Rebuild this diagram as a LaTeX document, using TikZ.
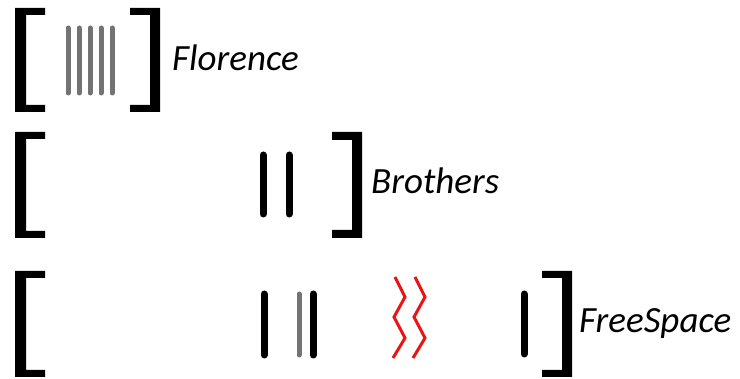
\documentclass[tikz,border=0pt]{standalone}
\usepackage{fontspec}
\setmainfont{Carlito}
\definecolor{zigred}{RGB}{235,20,20}
\definecolor{bargray}{RGB}{115,115,115}
\begin{document}
\begin{tikzpicture}[x=1pt,y=-1pt,
  lbl/.style={anchor=base west,inner sep=0pt,font=\fontsize{37}{40}\selectfont\itshape},
  blkbar/.style={line width=7pt,line cap=round,black},
  graybar/.style={line width=5pt,line cap=round,color=bargray},
  zig/.style={line width=3pt,color=zigred,line join=miter},
  brk/.style={fill=black}]
\useasboundingbox (0,0) rectangle (740,379);
% Row 1
\fill[brk] (15,8) -- (45,8) -- (45,15) -- (26,15) -- (26,105) -- (45,105) -- (45,112) -- (15,112) -- cycle;
\fill[brk] (160,8) -- (130,8) -- (130,15) -- (150,15) -- (150,105) -- (130,105) -- (130,112) -- (160,112) -- cycle;
\foreach \x/\n in {68/a,79/b,90/c,101/d,112/e}{
  \coordinate (g\n t) at (\x,28);
  \coordinate (g\n b) at (\x,93);
  \draw[graybar] (g\n t) -- (g\n b);
}
\node[lbl] (florence) at (172,71) {Florence};
% Row 2
\fill[brk] (15,132) -- (45,132) -- (45,139) -- (26,139) -- (26,231) -- (45,231) -- (45,238) -- (15,238) -- cycle;
\fill[brk] (362,132) -- (332,132) -- (332,140) -- (352,140) -- (352,230) -- (332,230) -- (332,238) -- (362,238) -- cycle;
\coordinate (b1t) at (263,155); \coordinate (b1b) at (263,214);
\coordinate (b2t) at (289,155); \coordinate (b2b) at (289,214);
\draw[blkbar] (b1t) -- (b1b);
\draw[blkbar] (b2t) -- (b2b);
\node[lbl] (brothers) at (371,194) {Brothers};
% Row 3
\fill[brk] (15,271) -- (45,271) -- (45,278) -- (26,278) -- (26,370) -- (45,370) -- (45,377) -- (15,377) -- cycle;
\fill[brk] (572,271) -- (542,271) -- (542,278) -- (562,278) -- (562,370) -- (542,370) -- (542,377) -- (572,377) -- cycle;
\coordinate (c1t) at (264,294); \coordinate (c1b) at (264,355);
\coordinate (c2t) at (299,294); \coordinate (c2b) at (299,355);
\coordinate (c3t) at (313,294); \coordinate (c3b) at (313,355);
\coordinate (c4t) at (524,294); \coordinate (c4b) at (524,354);
\draw[blkbar] (c1t) -- (c1b);
\draw[graybar] (c2t) -- (c2b);
\draw[blkbar] (c3t) -- (c3b);
\draw[blkbar] (c4t) -- (c4b);
\draw[zig] (395,277) -- (405,297) -- (394,317) -- (405,338) -- (393,358);
\draw[zig] (415,277) -- (425,297) -- (414,317) -- (425,338) -- (413,358);
\node[lbl] (freespace) at (579,333) {FreeSpace};
\end{tikzpicture}
\end{document}
